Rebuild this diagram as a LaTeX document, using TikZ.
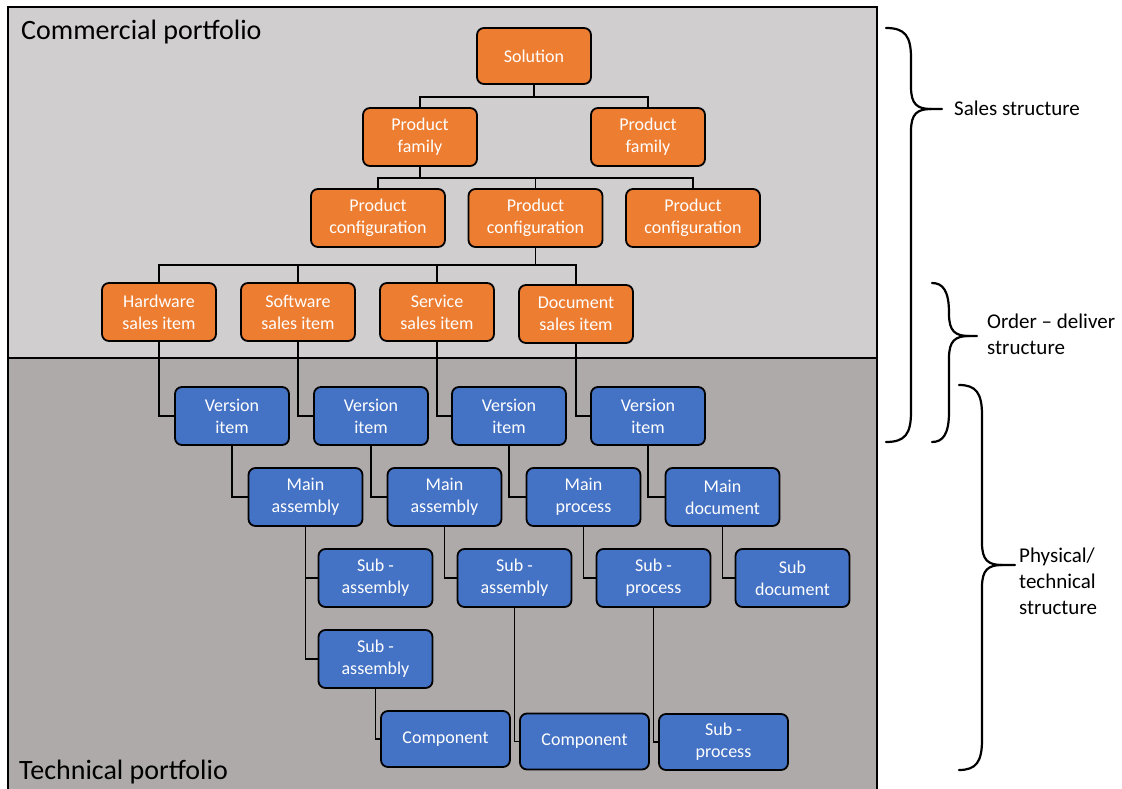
\documentclass[tikz,border=0pt]{standalone}
\usepackage{fontspec}
\setmainfont{Carlito}
\definecolor{topgray}{HTML}{D0CECE}
\definecolor{botgray}{HTML}{AEAAAA}
\definecolor{salesfill}{HTML}{ED7D31}
\definecolor{techfill}{HTML}{4472C4}
\tikzset{
  box/.style={draw=black, line width=1.8pt, rounded corners=7pt, text=white,
    align=center, inner sep=0pt, font=\fontsize{18}{22}\selectfont,
    minimum width=114pt, minimum height=58pt},
  sales/.style={box, fill=salesfill},
  tech/.style={box, fill=techfill},
  wide/.style={minimum width=134pt},
  comp/.style={minimum width=129pt, minimum height=56pt},
  link/.style={draw=black, line width=1.8pt},
  bracel/.style={draw=black, line width=2.2pt, line cap=round},
  side/.style={anchor=west, align=left, inner sep=0pt, font=\fontsize{21}{26}\selectfont},
  title/.style={anchor=west, inner sep=0pt, font=\fontsize{28}{32}\selectfont},
}
% right-hand curly brace: tip x, spine x, point x, top y, middle y, bottom y
\newcommand\sidebrace[6]{%
  \draw[bracel] (#1,#4) .. controls ({#2-6},#4) and (#2,{#4+8}) .. (#2,{#4+30})
    -- (#2,{#5-22}) .. controls (#2,{#5-5}) and ({#2+6},#5) .. ({#2+20},#5) -- (#3,#5);
  \draw[bracel] ({#2+20},#5) .. controls ({#2+6},#5) and (#2,{#5+5}) .. (#2,{#5+22})
    -- (#2,{#6-30}) .. controls (#2,{#6-8}) and ({#2-6},#6) .. (#1,#6);
}
\begin{document}
\begin{tikzpicture}[x=1pt, y=-1pt]
\useasboundingbox (0,0) rectangle (1122,789);
\fill[white] (0,0) rectangle (1122,789);

% the two portfolio panels
\fill[topgray] (8,7) rectangle (877,358);
\fill[botgray] (8,358) rectangle (877,789);
\draw[line width=1.2pt] (8,789) -- (8,7) -- (877,7) -- (877,789);
\draw[line width=1.2pt] (8,358) -- (877,358);
\node[title] (tcom) at (21,32) {Commercial portfolio};
\node[title] (ttech) at (19,772) {Technical portfolio};

% sales structure
\node[sales] (sol) at (534,56) [minimum height=56pt] {Solution};
\node[sales] (pf1) at (420,137) {Product\\family};
\node[sales] (pf2) at (648,137) {Product\\family};
\node[sales, wide] (pc1) at (378,218) {Product\\configuration};
\node[sales, wide] (pc2) at (535.5,218) {Product\\configuration};
\node[sales, wide] (pc3) at (693,218) {Product\\configuration};
\node[sales] (hw) at (159,312) {Hardware\\sales item};
\node[sales] (sw) at (298,312) {Software\\sales item};
\node[sales] (sv) at (437,312) {Service\\sales item};
\node[sales] (doc) at (576,314) {Document\\sales item};

% technical structure
\node[tech] (v1) at (232,416) {Version\\item};
\node[tech] (v2) at (371,416) {Version\\item};
\node[tech] (v3) at (509,416) {Version\\item};
\node[tech] (v4) at (648,416) {Version\\item};
\node[tech] (m1) at (305.5,497) {Main\\assembly};
\node[tech] (m2) at (444.5,497) {Main\\assembly};
\node[tech] (m3) at (583.5,497) {Main\\process};
\node[tech] (m4) at (722.5,497) {Main\\document};
\node[tech] (s1) at (375.5,578) {Sub -\\assembly};
\node[tech] (s2) at (514.5,578) {Sub -\\assembly};
\node[tech] (s3) at (653.5,578) {Sub -\\process};
\node[tech] (s4) at (792.5,578) {Sub\\document};
\node[tech] (s5) at (375.5,659) {Sub -\\assembly};
\node[tech, comp] (c1) at (445.5,739) {Component};
\node[tech, comp] (c2) at (584.5,741.5) {Component};
\node[tech, comp] (c3) at (723.5,742) {Sub -\\process};

% tree connectors
\coordinate (b1) at (534,97);
\coordinate (b2) at (420,178);
\coordinate (b3) at (535.5,265);
\draw[link] (sol.south) -- (b1);
\draw[link] (pf1.north) |- (b1) -| (pf2.north);
\draw[link] (pf1.south) -- (b2);
\draw[link] (pc1.north) |- (b2) -| (pc3.north);
\draw[link] (pc2.north) -- (pc2.north |- b2);
\draw[link] (pc2.south) -- (b3);
\draw[link] (hw.north) |- (b3) -| (doc.north);
\draw[link] (sw.north) -- (sw.north |- b3);
\draw[link] (sv.north) -- (sv.north |- b3);

\draw[link] (hw.south) |- (v1.west);
\draw[link] (sw.south) |- (v2.west);
\draw[link] (sv.south) |- (v3.west);
\draw[link] (doc.south) |- (v4.west);
\draw[link] (v1.south) |- (m1.west);
\draw[link] (v2.south) |- (m2.west);
\draw[link] (v3.south) |- (m3.west);
\draw[link] (v4.south) |- (m4.west);
\draw[link] (m1.south) |- (s1.west);
\draw[link] (m1.south) |- (s5.west);
\draw[link] (s5.south) |- (c1.west);
\draw[link] (m2.south) |- (s2.west);
\draw[link] (s2.south) |- (c2.west);
\draw[link] (m3.south) |- (s3.west);
\draw[link] (s3.south) |- (c3.west);
\draw[link] (m4.south) |- (s4.west);

% structure braces and their labels
\sidebrace{886}{911}{942}{28}{109}{442}
\sidebrace{932}{949}{977}{283}{336}{442}
\sidebrace{959}{982}{1015}{385}{565}{770}
\node[side] (lsales) at (954,108) {Sales structure};
\node[side] (lorder) at (987,334) {Order -- deliver\\structure};
\node[side] (lphys) at (1019,581) {Physical/\\technical\\structure};
\end{tikzpicture}
\end{document}
